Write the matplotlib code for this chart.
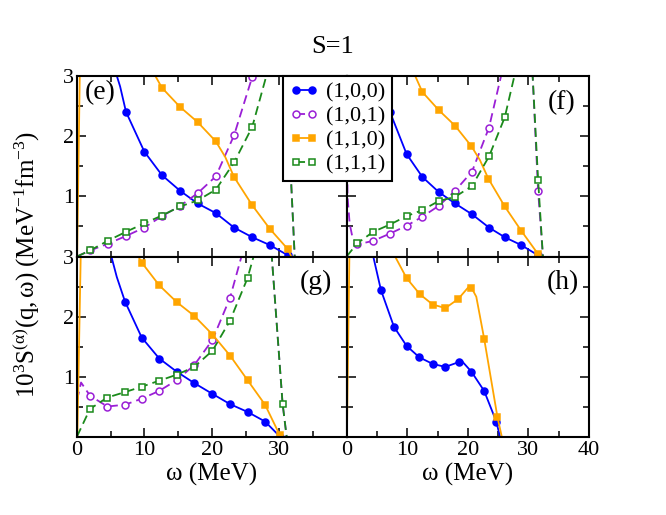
import numpy as np
import matplotlib
matplotlib.use('Agg')
import matplotlib.pyplot as plt
from matplotlib.lines import Line2D

plt.rcParams['font.family'] = ['Liberation Serif', 'DejaVu Serif']
plt.rcParams['mathtext.fontset'] = 'custom'
plt.rcParams['mathtext.rm'] = 'Liberation Serif'
plt.rcParams['mathtext.it'] = 'Liberation Serif:italic'

nan = np.nan
labels = ['(1,0,0)', '(1,0,1)', '(1,1,0)', '(1,1,1)']

# panel (e)
e100_x = [5.6, 5.9, 6.4, 7.27, 9.99, 12.6, 15.3, 17.9, 20.6, 23.3, 26.0, 28.6, 31.3, 31.6]
e100_y = [3.3, 3.0, 2.82, 2.40, 1.74, 1.35, 1.09, 0.88, 0.72, 0.48, 0.32, 0.19, 0.02, 0.0]
e100_m = [3, 4, 5, 6, 7, 8, 9, 10, 11, 12]
e101_x = [0.0, 1.93, 4.55, 7.27, 9.99, 12.6, 15.3, 17.9, 20.6, 23.3, 26.0, 26.6, nan, 31.2, 31.8, 32.3]
e101_y = [0.0, 0.10, 0.21, 0.34, 0.48, 0.67, 0.84, 1.05, 1.33, 2.01, 2.98, 3.3, nan, 3.3, 1.17, 0.0]
e101_m = [1, 2, 3, 4, 5, 6, 7, 8, 9, 10]
e110_x = [0.02, 0.45, nan, 11.0, 11.6, 12.6, 15.3, 17.9, 20.6, 22.0, 23.3, 26.0, 28.6, 31.3, 31.8]
e110_y = [0.0, 3.3, nan, 3.15, 3.0, 2.80, 2.48, 2.23, 1.91, 1.65, 1.32, 0.85, 0.46, 0.12, 0.0]
e110_m = [5, 6, 7, 8, 10, 11, 12, 13]
e111_x = [0.0, 1.93, 4.55, 7.27, 9.99, 12.6, 15.3, 17.9, 20.6, 23.3, 26.0, 28.1, 28.5, nan, 31.2, 31.8, 32.3]
e111_y = [0.0, 0.10, 0.26, 0.41, 0.55, 0.68, 0.83, 0.93, 1.11, 1.56, 2.15, 3.0, 3.3, nan, 3.3, 1.17, 0.0]
e111_m = [1, 2, 3, 4, 5, 6, 7, 8, 9, 10]

# panel (f)
f100_x = [5.6, 6.0, 7.15, 9.9, 12.5, 15.2, 17.9, 20.7, 23.5, 26.1, 28.8, 31.6, 31.9]
f100_y = [3.3, 3.0, 2.4, 1.70, 1.32, 1.07, 0.88, 0.70, 0.48, 0.32, 0.19, 0.02, 0.0]
f100_m = [2, 3, 4, 5, 6, 7, 8, 9, 10, 11]
f101_x = [0.02, 0.15, 0.5, 1.0, 1.77, 4.4, 7.15, 9.9, 12.5, 15.2, 17.9, 20.7, 23.5, 25.5, 25.9, nan, 30.4, 30.7, 31.6, 32.4]
f101_y = [3.3, 1.0, 0.55, 0.3, 0.20, 0.26, 0.38, 0.51, 0.66, 0.84, 1.09, 1.41, 2.14, 3.0, 3.3, nan, 3.3, 3.0, 1.09, 0.0]
f101_m = [4, 5, 6, 7, 8, 9, 10, 11, 12, 18]
f110_x = [10.8, 11.3, 12.5, 15.2, 17.9, 20.6, 22.0, 23.4, 26.1, 28.8, 31.6, 31.9]
f110_y = [3.2, 3.0, 2.73, 2.43, 2.17, 1.83, 1.60, 1.29, 0.83, 0.43, 0.04, 0.0]
f110_m = [2, 3, 4, 5, 7, 8, 9, 10]
f111_x = [0.0, 1.77, 4.4, 7.15, 9.9, 12.5, 15.2, 17.9, 20.7, 23.5, 26.1, 27.7, 28.0, nan, 30.4, 30.7, 31.6, 32.4]
f111_y = [0.0, 0.22, 0.41, 0.53, 0.67, 0.77, 0.92, 0.99, 1.17, 1.66, 2.31, 3.0, 3.3, nan, 3.3, 3.0, 1.27, 0.0]
f111_m = [1, 2, 3, 4, 5, 6, 7, 8, 9, 10, 16]

# panel (g)
g100_x = [4.7, 5.1, 5.9, 7.12, 9.6, 12.2, 14.8, 17.4, 20.1, 22.7, 25.3, 27.9, 30.1]
g100_y = [3.3, 3.0, 2.66, 2.25, 1.65, 1.30, 1.08, 0.89, 0.71, 0.54, 0.41, 0.25, 0.0]
g100_m = [3, 4, 5, 6, 7, 8, 9, 10, 11, 12]
g101_x = [0.0, 0.6, 1.93, 4.5, 7.12, 9.6, 12.2, 14.8, 17.4, 20.1, 22.7, 24.4, 24.7, nan, 28.7, 28.9, 30.5, 31.1]
g101_y = [0.6, 0.9, 0.68, 0.50, 0.53, 0.63, 0.76, 0.94, 1.19, 1.61, 2.31, 3.0, 3.3, nan, 3.3, 3.0, 0.55, 0.0]
g101_m = [2, 3, 4, 5, 6, 7, 8, 9, 10]
g110_x = [0.05, 0.6, nan, 8.9, 9.1, 9.6, 12.2, 14.8, 17.4, 20.1, 22.7, 25.3, 27.9, 30.1, 30.3]
g110_y = [0.0, 3.3, nan, 3.1, 3.0, 2.90, 2.52, 2.24, 2.01, 1.70, 1.35, 0.94, 0.53, 0.02, 0.0]
g110_m = [5, 6, 7, 8, 9, 10, 11, 12, 13]
g111_x = [0.0, 1.93, 4.5, 7.12, 9.6, 12.2, 14.8, 17.4, 20.1, 22.7, 25.3, 26.2, 26.5, nan, 28.7, 28.9, 30.5, 31.1]
g111_y = [0.0, 0.46, 0.65, 0.74, 0.83, 0.93, 1.03, 1.16, 1.43, 1.93, 2.64, 3.0, 3.3, nan, 3.3, 3.0, 0.55, 0.0]
g111_m = [1, 2, 3, 4, 5, 6, 7, 8, 9, 10, 16]

# panel (h)
h100_x = [4.2, 4.4, 5.67, 7.81, 9.9, 12.0, 14.2, 16.3, 18.5, 19.0, 20.6, 22.7, 24.7, 25.3]
h100_y = [3.3, 3.0, 2.44, 1.83, 1.51, 1.32, 1.21, 1.16, 1.24, 1.26, 1.08, 0.76, 0.25, 0.0]
h100_m = [2, 3, 4, 5, 6, 7, 8, 10, 11, 12]
h110_x = [0.05, 0.5, nan, 7.6, 8.0, 9.9, 12.1, 14.2, 16.3, 18.4, 20.2, 20.6, 21.4, 22.7, 24.9, 25.6]
h110_y = [0.0, 3.3, nan, 3.2, 3.0, 2.64, 2.37, 2.20, 2.14, 2.29, 2.50, 2.48, 2.33, 1.63, 0.32, 0.0]
h110_m = [5, 6, 7, 8, 9, 11, 13, 14]

blue = '#0000ff'
purple = '#9a1fd6'
orange = '#ffa500'
green = '#1a8a1a'

# style per series: color, dashed?, marker, filled?
styles = {
    '100': (blue, False, 'o', True),
    '101': (purple, True, 'o', False),
    '110': (orange, False, 's', True),
    '111': (green, True, 's', False),
}


def draw(ax, key, x, y, m):
    c, dashed, mk, filled = styles[key]
    ls = (0, (5, 2.8)) if dashed else '-'
    ms = 5.0 if mk == 'o' else 4.4
    ax.plot(x, y, color=c, ls=ls, lw=1.3, marker=mk, markevery=m, ms=ms,
            mfc=c if filled else 'white', mec=c, mew=1.1, clip_on=True)


fig = plt.figure(figsize=(6.66, 5.15), dpi=100)
W, H = 666.0, 515.0
ax_e = fig.add_axes([77 / W, (H - 256.5) / H, 269.6 / W, 180.8 / H])
ax_f = fig.add_axes([346.6 / W, (H - 256.5) / H, 242.4 / W, 180.8 / H])
ax_g = fig.add_axes([77 / W, (H - 436.5) / H, 269.6 / W, 180 / H])
ax_h = fig.add_axes([346.6 / W, (H - 436.5) / H, 242.4 / W, 180 / H])

draw(ax_e, '100', e100_x, e100_y, e100_m)
draw(ax_e, '101', e101_x, e101_y, e101_m)
draw(ax_e, '110', e110_x, e110_y, e110_m)
draw(ax_e, '111', e111_x, e111_y, e111_m)

draw(ax_f, '100', f100_x, f100_y, f100_m)
draw(ax_f, '101', f101_x, f101_y, f101_m)
draw(ax_f, '110', f110_x, f110_y, f110_m)
draw(ax_f, '111', f111_x, f111_y, f111_m)

draw(ax_g, '100', g100_x, g100_y, g100_m)
draw(ax_g, '101', g101_x, g101_y, g101_m)
draw(ax_g, '110', g110_x, g110_y, g110_m)
draw(ax_g, '111', g111_x, g111_y, g111_m)

draw(ax_h, '100', h100_x, h100_y, h100_m)
draw(ax_h, '110', h110_x, h110_y, h110_m)

for ax in [ax_e, ax_f, ax_g, ax_h]:
    ax.set_xlim(0, 40)
    ax.set_ylim(0, 3)
    ax.set_xticks([0, 10, 20, 30, 40])
    ax.set_xticks(np.arange(5, 40, 10), minor=True)
    ax.set_yticks([0, 1, 2, 3])
    ax.set_yticks([0.5, 1.5, 2.5], minor=True)
    ax.tick_params(which='both', direction='in', top=True, right=True,
                   width=1.1, labelsize=16, pad=3)
    ax.tick_params(which='major', length=6.5)
    ax.tick_params(which='minor', length=4)
    for s in ax.spines.values():
        s.set_linewidth(1.5)

ax_e.set_xticklabels([])
ax_f.set_xticklabels([])
ax_f.set_yticklabels([])
ax_h.set_yticklabels([])
ax_e.set_yticklabels(['', '1', '2', '3'])
ax_g.set_yticklabels(['', '1', '2', '3'])
ax_g.set_xticklabels(['0', '10', '20', '30', ''])
ax_h.set_xticklabels(['0', '10', '20', '30', '40'])
for ax in [ax_e, ax_g]:
    ax.tick_params(axis='y', pad=2)

ax_e.text(0.03, 0.975, '(e)', transform=ax_e.transAxes, fontsize=20, ha='left', va='top')
ax_f.text(0.945, 0.92, '(f)', transform=ax_f.transAxes, fontsize=20, ha='right', va='top')
ax_g.text(0.945, 0.925, '(g)', transform=ax_g.transAxes, fontsize=20, ha='right', va='top')
ax_h.text(0.96, 0.925, '(h)', transform=ax_h.transAxes, fontsize=20, ha='right', va='top')

fig.text(333 / W, 1 - 47 / H, 'S=1', fontsize=19, ha='center', va='center')
fig.text(211.8 / W, 1 - 474 / H, 'ω (MeV)', fontsize=18, ha='center', va='center')
fig.text(467.8 / W, 1 - 474 / H, 'ω (MeV)', fontsize=18, ha='center', va='center')
fig.text(26 / W, 1 - 264 / H,
         r'$\mathrm{10^3S^{(\alpha)}(q,\omega)\ (MeV^{-1}fm^{-3})}$',
         fontsize=18, rotation=90, ha='center', va='center')

handles = []
for key in ['100', '101', '110', '111']:
    c, dashed, mk, filled = styles[key]
    handles.append(Line2D([], [], color=c, ls=(0, (5, 2.8)) if dashed else '-', lw=1.3,
                          marker=mk, ms=5.0 if mk == 'o' else 4.4,
                          mfc=c if filled else 'white', mec=c, mew=1.1))
leg = fig.legend(handles, labels, loc='upper left', bbox_to_anchor=(283 / W, 1 - 75.7 / H),
                 fontsize=16, frameon=True, fancybox=False, edgecolor='black', framealpha=1,
                 borderpad=0.3, labelspacing=0.15, handlelength=1.3, handletextpad=0.35,
                 borderaxespad=0, numpoints=2)
leg.get_frame().set_linewidth(1.5)

fig.savefig('out.png', dpi=100)
